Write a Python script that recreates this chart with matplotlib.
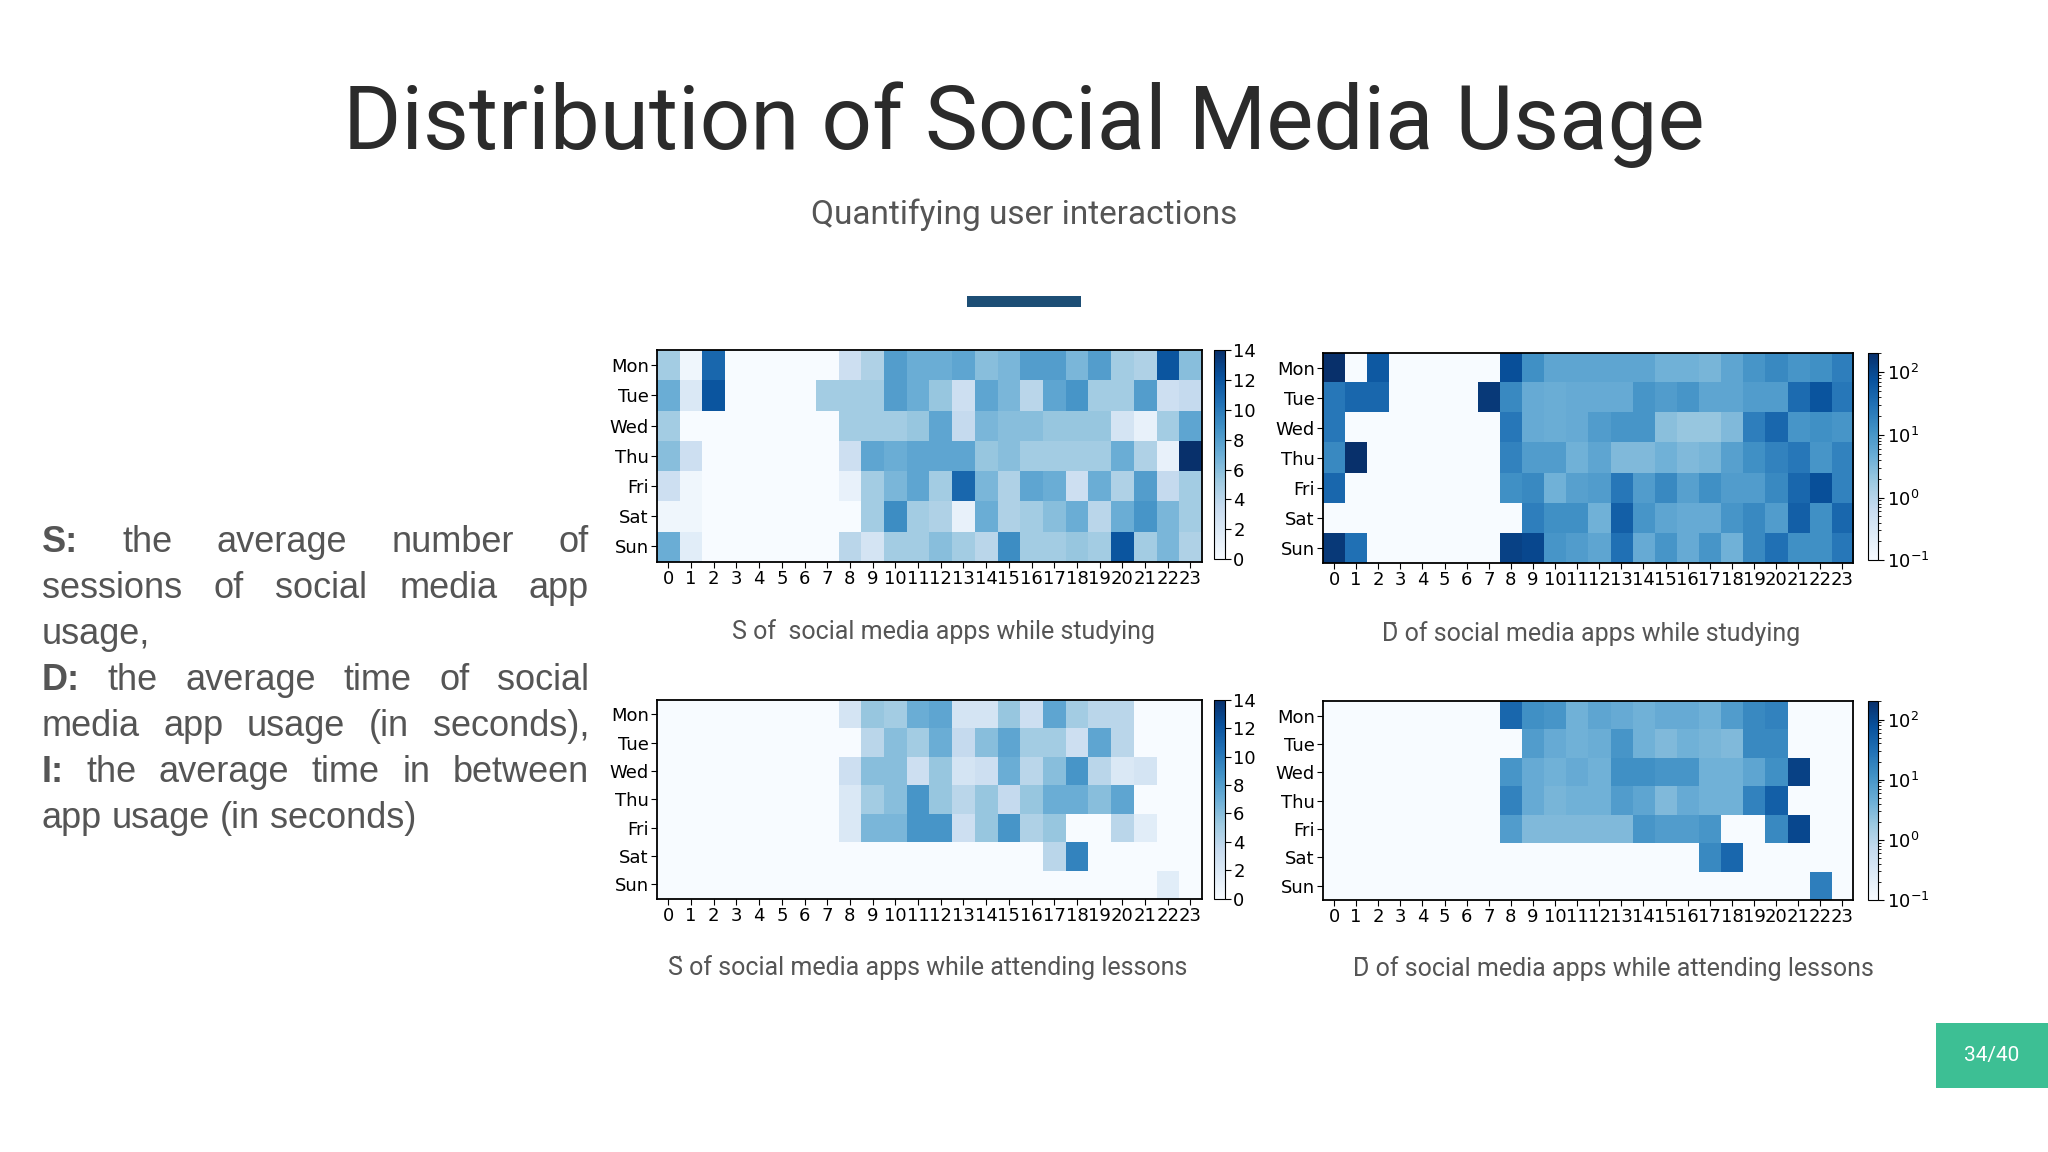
import matplotlib
matplotlib.use("Agg")
import matplotlib.pyplot as plt
from matplotlib.colors import LogNorm, Normalize
import numpy as np

days = ["Mon", "Tue", "Wed", "Thu", "Fri", "Sat", "Sun"]
hours = [str(h) for h in range(24)]

# S: sessions while studying
s_study = [
    [5, 0.5, 11, 0, 0, 0, 0, 0, 3, 4.5, 8, 7, 7, 7.5, 6, 6.5, 8, 8, 6.5, 8, 5, 4.5, 12, 6],
    [7, 2, 12, 0, 0, 0, 0, 5, 5, 5, 8, 7, 5.5, 3, 7.5, 6.5, 4, 7.5, 8.5, 5, 5, 8, 3, 3.5],
    [5, 0, 0, 0, 0, 0, 0, 0, 5, 5, 5, 5.5, 7.5, 3.5, 6.5, 6, 6, 5.5, 5.5, 5.5, 2.5, 1, 5, 7.5],
    [6, 3, 0, 0, 0, 0, 0, 0, 3, 7.5, 7, 7.5, 7.5, 7.5, 5.5, 6, 5, 5, 5, 5, 7, 4.5, 1, 14],
    [3, 0.5, 0, 0, 0, 0, 0, 0, 1, 5, 6.5, 7.5, 5, 11, 6.5, 4.5, 7.5, 7, 3, 7, 4.5, 8, 3.5, 5],
    [0.5, 0.5, 0, 0, 0, 0, 0, 0, 0, 5, 9, 5, 4.5, 1, 7, 4.5, 5, 6, 7, 4, 7, 8.5, 6.5, 5],
    [7, 1.5, 0, 0, 0, 0, 0, 0, 4, 2.5, 5, 5, 6, 5, 4, 9, 5, 5, 5.5, 5, 12, 5, 6.5, 4.5],
]

# S: sessions while attending lessons
s_lesson = [
    [0, 0, 0, 0, 0, 0, 0, 0, 2.5, 5.5, 5, 7, 7.5, 2.5, 2.5, 5.5, 3, 7.5, 5, 4, 4, 0, 0, 0],
    [0, 0, 0, 0, 0, 0, 0, 0, 0, 4, 6, 5, 7, 3.5, 6, 7.5, 5, 5, 3, 7.5, 4, 0, 0, 0],
    [0, 0, 0, 0, 0, 0, 0, 0, 3, 6, 6, 3, 5.5, 2.5, 3, 7, 4, 6, 8.5, 4, 2, 2.5, 0, 0],
    [0, 0, 0, 0, 0, 0, 0, 0, 2, 5, 6, 8.5, 5.5, 4, 5.5, 3.5, 5.5, 7, 7, 6, 7.5, 0, 0, 0],
    [0, 0, 0, 0, 0, 0, 0, 0, 2, 6.5, 6.5, 8.5, 8.5, 3, 5.5, 8.5, 4.5, 5.5, 0, 0, 4, 1.5, 0, 0],
    [0, 0, 0, 0, 0, 0, 0, 0, 0, 0, 0, 0, 0, 0, 0, 0, 0, 4, 9.5, 0, 0, 0, 0, 0],
    [0, 0, 0, 0, 0, 0, 0, 0, 0, 0, 0, 0, 0, 0, 0, 0, 0, 0, 0, 0, 0, 0, 1.5, 0],
]

# D: average duration while studying (log scale, 0.1 = none)
d_study = [
    [200, 0.1, 60, 0.1, 0.1, 0.1, 0.1, 0.1, 80, 12, 6, 6, 6, 6, 6, 4, 4, 3.5, 6, 10, 15, 10, 12, 20],
    [25, 40, 40, 0.1, 0.1, 0.1, 0.1, 150, 15, 5, 4.5, 5, 5, 5, 10, 8, 10, 6, 6, 8, 8, 35, 70, 25],
    [25, 0.1, 0.1, 0.1, 0.1, 0.1, 0.1, 0.1, 25, 5, 4.5, 5, 8, 10, 10, 2.5, 2, 2, 3, 20, 40, 10, 12, 10],
    [15, 200, 0.1, 0.1, 0.1, 0.1, 0.1, 0.1, 18, 8, 8, 4, 6, 3, 3, 4, 3, 3.5, 7, 12, 18, 25, 10, 18],
    [40, 0.1, 0.1, 0.1, 0.1, 0.1, 0.1, 0.1, 12, 15, 4, 7, 8, 25, 8, 15, 7, 12, 8, 8, 15, 40, 80, 18],
    [0.1, 0.1, 0.1, 0.1, 0.1, 0.1, 0.1, 0.1, 0.1, 20, 12, 12, 4, 50, 10, 6, 5, 5, 10, 15, 8, 50, 12, 40],
    [150, 30, 0.1, 0.1, 0.1, 0.1, 0.1, 0.1, 120, 100, 10, 8, 6, 30, 5, 10, 5, 10, 4, 15, 30, 12, 12, 25],
]

# D: average duration while attending lessons
d_lesson = [
    [0.1, 0.1, 0.1, 0.1, 0.1, 0.1, 0.1, 0.1, 40, 12, 10, 4, 6, 5, 4, 5, 5, 4, 8, 15, 18, 0.1, 0.1, 0.1],
    [0.1, 0.1, 0.1, 0.1, 0.1, 0.1, 0.1, 0.1, 0.1, 8, 5, 4, 4.5, 10, 4, 3, 4, 3.5, 3, 15, 15, 0.1, 0.1, 0.1],
    [0.1, 0.1, 0.1, 0.1, 0.1, 0.1, 0.1, 0.1, 10, 5, 4, 5, 4, 12, 12, 10, 10, 4, 4, 6, 12, 120, 0.1, 0.1],
    [0.1, 0.1, 0.1, 0.1, 0.1, 0.1, 0.1, 0.1, 18, 5, 3.5, 4, 4, 8, 6, 3, 5, 4, 4, 18, 50, 0.1, 0.1, 0.1],
    [0.1, 0.1, 0.1, 0.1, 0.1, 0.1, 0.1, 0.1, 8, 3, 3, 3, 3, 3, 10, 8, 8, 10, 0.1, 0.1, 15, 100, 0.1, 0.1],
    [0.1, 0.1, 0.1, 0.1, 0.1, 0.1, 0.1, 0.1, 0.1, 0.1, 0.1, 0.1, 0.1, 0.1, 0.1, 0.1, 0.1, 15, 40, 0.1, 0.1, 0.1, 0.1, 0.1],
    [0.1, 0.1, 0.1, 0.1, 0.1, 0.1, 0.1, 0.1, 0.1, 0.1, 0.1, 0.1, 0.1, 0.1, 0.1, 0.1, 0.1, 0.1, 0.1, 0.1, 0.1, 0.1, 20, 0.1],
]

captions = [
    "S of  social media apps while studying",
    "D\u0304 of social media apps while studying",
    "S\u0303 of social media apps while attending lessons",
    "D\u0304 of social media apps while attending lessons",
]

# (bold lead, rest of line, justify?)
left_lines = [
    ("S:", "the average number of", True),
    ("", "sessions of social media app", True),
    ("", "usage,", False),
    ("D:", "the average time of social", True),
    ("", "media app usage (in seconds),", True),
    ("I:", "the average time in between", True),
    ("", "app usage (in seconds)", False),
]

fig = plt.figure(figsize=(20.48, 11.52), dpi=100)
fig.patch.set_facecolor("white")

fig.text(0.5, 0.892, "Distribution of Social Media Usage", ha="center", va="center",
         fontsize=64, color="#2b2b2b", family="Roboto")
fig.text(0.5, 0.814, "Quantifying user interactions", ha="center", va="center",
         fontsize=24, color="#555555", family="Roboto")
bar = fig.add_axes([740 / 1568, 1 - 235 / 882, 88 / 1568, 8 / 882])
bar.set_facecolor("#1d4e75")
bar.set_xticks([]); bar.set_yticks([])
for s in bar.spines.values():
    s.set_visible(False)

# left explanation text, justified by hand
renderer = fig.canvas.get_renderer()
x0, x1 = 32 / 1568, 451 / 1568
figw = fig.bbox.width
y = 1 - 415 / 882
style = dict(fontsize=26, color="#555555", family="Liberation Sans", va="center")
for bold, rest, justify in left_lines:
    words = []
    if bold:
        words.append(fig.text(0, y, bold, weight="bold", **style))
    for w in rest.split():
        words.append(fig.text(0, y, w, **style))
    widths = [t.get_window_extent(renderer).width / figw for t in words]
    space = fig.text(0, y, "a a", **style).get_window_extent(renderer).width / figw \
        - 2 * fig.text(0, y, "a", alpha=0, **style).get_window_extent(renderer).width / figw
    fig.texts = [t for t in fig.texts if t.get_text() not in ("a a", "a")]
    if justify and len(words) > 1:
        gap = (x1 - x0 - sum(widths)) / (len(words) - 1)
    else:
        gap = space
    x = x0
    for t, w in zip(words, widths):
        t.set_x(x)
        x += w + gap
    y -= 35.3 / 882


def heat(rect, cbrect, data, norm, ticks, caption, cap_x, cap_y):
    ax = fig.add_axes(rect)
    ax.imshow(np.array(data), cmap="Blues", norm=norm, aspect="auto", interpolation="nearest")
    ax.set_xticks(range(24))
    ax.set_xticklabels(hours, fontsize=13)
    ax.set_yticks(range(7))
    ax.set_yticklabels(days, fontsize=13)
    ax.tick_params(length=4, pad=2)
    for s in ax.spines.values():
        s.set_linewidth(1.3)
    cax = fig.add_axes(cbrect)
    sm = plt.cm.ScalarMappable(norm=norm, cmap="Blues")
    cb = fig.colorbar(sm, cax=cax)
    cb.set_ticks(ticks)
    cb.ax.tick_params(labelsize=13, length=4, pad=2)
    fig.text(cap_x, cap_y, caption, ha="center", va="center", fontsize=18,
             color="#555555", family=["Roboto", "DejaVu Sans"])


lin = Normalize(0, 14)
log = LogNorm(0.1, 200)
lin_ticks = [0, 2, 4, 6, 8, 10, 12, 14]
log_ticks = [0.1, 1, 10, 100]

heat([0.3208, 0.5125, 0.266, 0.1837], [0.593, 0.5148, 0.0051, 0.181],
     s_study, lin, lin_ticks, captions[0], 0.4605, 0.452)
heat([0.646, 0.5113, 0.259, 0.1825], [0.912, 0.5136, 0.0051, 0.180],
     d_study, log, log_ticks, captions[1], 0.777, 0.450)
heat([0.3208, 0.22, 0.266, 0.1723], [0.593, 0.22, 0.0051, 0.1723],
     s_lesson, lin, lin_ticks, captions[2], 0.453, 0.160)
heat([0.646, 0.2188, 0.259, 0.1723], [0.912, 0.2188, 0.0051, 0.1723],
     d_lesson, log, log_ticks, captions[3], 0.788, 0.159)

# page number badge
pn = fig.add_axes([1482 / 1568, 1 - 833 / 882, 86 / 1568, 50 / 882])
pn.set_facecolor("#3dbf94")
pn.set_xticks([]); pn.set_yticks([])
for s in pn.spines.values():
    s.set_visible(False)
pn.text(0.5, 0.5, "34/40", ha="center", va="center", color="white", fontsize=15,
        family="Roboto", transform=pn.transAxes)

fig.savefig("out.png", dpi=100, facecolor="white")
